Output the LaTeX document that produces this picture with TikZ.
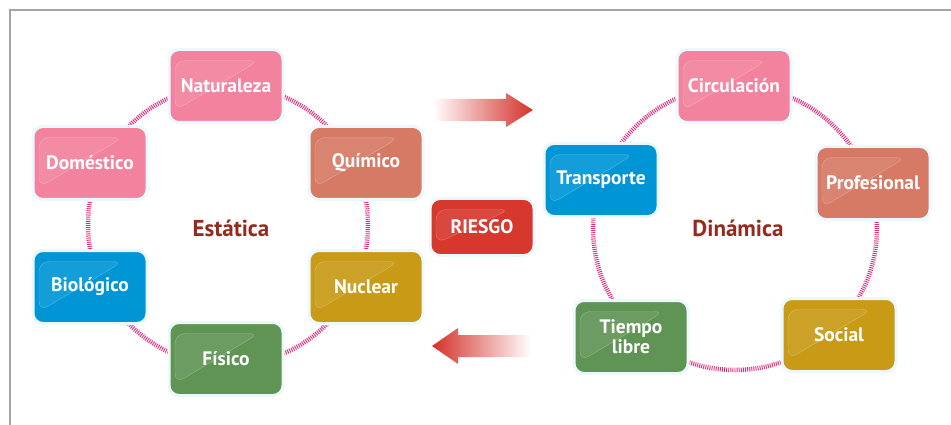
\documentclass[tikz,border=0pt]{standalone}
\usepackage{fontspec}
\setsansfont{PT Sans}
\usetikzlibrary{positioning, calc}

\begin{document}
\begin{tikzpicture}[
    x=1pt, y=-1pt,
    box/.style={rectangle, rounded corners=10pt, minimum width=114pt, minimum height=73pt, inner sep=0pt,
        draw=white!92!cyan, line width=3pt, text=white, align=center,
        font=\sffamily\bfseries\fontsize{19.5}{20}\selectfont,
        path picture={
            \fill[white, opacity=0.08] ($(path picture bounding box.north west)+(6pt,-11pt)$)
                -- ($(path picture bounding box.north east)+(-24pt,-11pt)$)
                -- ($(path picture bounding box.south west)+(6pt,12pt)$) -- cycle;
            \draw[white, opacity=0.3, line width=0.4pt] ($(path picture bounding box.south west)+(6pt,12pt)$)
                -- ($(path picture bounding box.north west)+(6pt,-11pt)$)
                -- ($(path picture bounding box.north east)+(-24pt,-11pt)$)
                -- cycle;
        }},
    pinkbox/.style={box, fill=mypink},
    salmonbox/.style={box, fill=mysalmon},
    bluebox/.style={box, fill=myblue},
    goldbox/.style={box, fill=mygold},
    greenbox/.style={box, fill=mygreen},
    riskbox/.style={box, fill=myred, minimum width=104pt, minimum height=57pt},
    ring/.style={draw=mymagenta, line width=4.5pt, dash pattern=on 0.9pt off 1.2pt},
    group label/.style={font=\sffamily\bfseries\fontsize{23}{24}\selectfont, text=mydarkred}
]

% Define colors
\definecolor{mypink}{RGB}{242,130,158}
\definecolor{mysalmon}{RGB}{214,122,101}
\definecolor{myblue}{RGB}{0,150,214}
\definecolor{mygold}{RGB}{200,154,22}
\definecolor{mygreen}{RGB}{96,148,84}
\definecolor{myred}{RGB}{214,56,46}
\definecolor{myarrow}{RGB}{212,48,42}
\definecolor{mymagenta}{RGB}{232,36,120}
\definecolor{mydarkred}{RGB}{150,42,30}
\definecolor{myframe}{RGB}{165,165,165}

\useasboundingbox (0,0) rectangle (951,425);

% --- Frame ---
\draw[myframe, line width=1.5pt] (10,425) -- (10,10) -- (951,10);

% --- Rings (behind the boxes) ---
\draw[ring] (228,225) circle (140);
\draw[ring] (735,228) circle (142);

% --- Static risks ---
\node[pinkbox] (naturaleza) at (226,86) {Naturaleza};
\node[pinkbox] (domestico) at (90,163) {Doméstico};
\node[salmonbox] (quimico) at (366,163) {Químico};
\node[bluebox] (biologico) at (90,287) {Biológico};
\node[goldbox] (nuclear) at (366,287) {Nuclear};
\node[greenbox] (fisico) at (226,359) {Físico};
\node[group label] (estatica) at (231,228) {Estática};

% --- Centre ---
\node[riskbox] (riesgo) at (482,227) {RIESGO};

% Arrows
\shade[left color=white, middle color=myarrow!70, right color=myarrow] (433,99) -- (506,99) -- (506,93) -- (533,110)
    -- (506,127) -- (506,121) -- (433,121) -- cycle;
\shade[left color=myarrow, middle color=myarrow!70, right color=white] (531,335) -- (458,335) -- (458,328) -- (432,346)
    -- (458,364) -- (458,357) -- (531,357) -- cycle;

% --- Dynamic risks ---
\node[pinkbox] (circulacion) at (734,86) {Circulación};
\node[bluebox] (transporte) at (601,180) {Transporte};
\node[salmonbox] (profesional) at (873,183) {Profesional};
\node[greenbox] (tiempo) at (631,337) {Tiempo\\libre};
\node[goldbox] (social) at (839,335) {Social};
\node[group label] (dinamica) at (738,228) {Dinámica};

\end{tikzpicture}
\end{document}
